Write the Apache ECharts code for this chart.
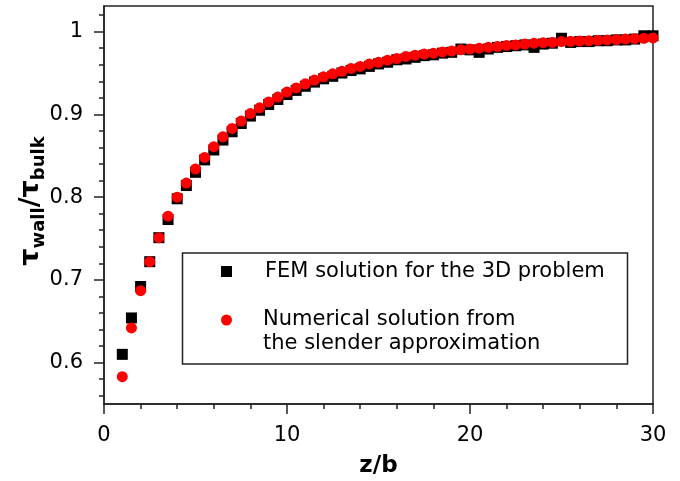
<!DOCTYPE html>
<html>
<head>
<meta charset="utf-8">
<script src="https://cdn.jsdelivr.net/npm/echarts@6/dist/echarts.min.js"></script>
<style>
  html, body { margin: 0; padding: 0; background: #fff; }
  #chart { width: 680px; height: 481px; }
</style>
</head>
<body>
<div id="chart"></div>
<script>
// ---- data ----
var zValues = [1, 1.5, 2, 2.5, 3, 3.5, 4, 4.5, 5, 5.5, 6, 6.5, 7, 7.5, 8, 8.5, 9, 9.5, 10, 10.5,
  11, 11.5, 12, 12.5, 13, 13.5, 14, 14.5, 15, 15.5, 16, 16.5, 17, 17.5, 18, 18.5, 19, 19.5, 20, 20.5,
  21, 21.5, 22, 22.5, 23, 23.5, 24, 24.5, 25, 25.5, 26, 26.5, 27, 27.5, 28, 28.5, 29, 29.5, 30];

var femValues = [0.610, 0.654, 0.692, 0.722, 0.751, 0.773, 0.798, 0.814, 0.830, 0.845,
  0.857, 0.869, 0.879, 0.889, 0.898, 0.905, 0.912, 0.918, 0.924, 0.929,
  0.934, 0.939, 0.943, 0.946, 0.950, 0.953, 0.955, 0.958, 0.961, 0.963,
  0.966, 0.967, 0.969, 0.971, 0.972, 0.974, 0.975, 0.979, 0.978, 0.975,
  0.979, 0.981, 0.982, 0.983, 0.984, 0.981, 0.985, 0.986, 0.992, 0.987,
  0.988, 0.988, 0.989, 0.989, 0.990, 0.990, 0.991, 0.995, 0.995];

var slenderValues = [0.583, 0.642, 0.687, 0.722, 0.751, 0.777, 0.800, 0.817, 0.834, 0.848,
  0.861, 0.873, 0.883, 0.892, 0.901, 0.908, 0.915, 0.921, 0.927, 0.932,
  0.937, 0.9415, 0.9455, 0.949, 0.952, 0.9555, 0.958, 0.961, 0.963, 0.9655,
  0.9675, 0.970, 0.9715, 0.973, 0.974, 0.9755, 0.9765, 0.978, 0.979, 0.980,
  0.981, 0.982, 0.9833, 0.984, 0.985, 0.986, 0.9867, 0.987, 0.988, 0.9883,
  0.9887, 0.989, 0.9896, 0.990, 0.9904, 0.991, 0.9915, 0.992, 0.9924];

var yMajorTicks = [0.6, 0.7, 0.8, 0.9, 1];
var yMinorTicks = [0.56, 0.58, 0.62, 0.64, 0.66, 0.68, 0.72, 0.74, 0.76, 0.78,
  0.82, 0.84, 0.86, 0.88, 0.92, 0.94, 0.96, 0.98, 1.02];

var seriesNames = ['FEM solution for the 3D problem', 'Numerical solution from the slender approximation'];
var legendLines = [['FEM solution for the 3D problem'], ['Numerical solution from', 'the slender approximation']];

// ---- chart ----
function pairs(xs, ys) {
  var out = [];
  for (var i = 0; i < xs.length; i++) out.push([xs[i], ys[i]]);
  return out;
}

var FONT = 'DejaVu Sans';
var AXIS_COLOR = '#222';

var chart = echarts.init(document.getElementById('chart'), null, { renderer: 'canvas' });
chart.setOption({
  animation: false,
  backgroundColor: '#fff',
  textStyle: { fontFamily: FONT },
  grid: {
    left: 104, right: 27, top: 6, bottom: 77,
    containLabel: false, outerBoundsMode: 'none',
    show: true, borderColor: AXIS_COLOR, borderWidth: 1.5, backgroundColor: 'transparent'
  },
  xAxis: {
    type: 'value', min: 0, max: 30, interval: 10,
    name: 'z/b', nameLocation: 'middle', nameGap: 51, nameMoveOverlap: false,
    nameTextStyle: { fontFamily: FONT, fontSize: 23, fontWeight: 'bold', color: '#000' },
    axisLine: { show: true, onZero: false, lineStyle: { color: AXIS_COLOR, width: 1.5 } },
    axisTick: { show: true, length: 10, lineStyle: { color: AXIS_COLOR, width: 1.5 } },
    minorTick: { show: true, splitNumber: 5, length: 5, lineStyle: { color: AXIS_COLOR, width: 1.5 } },
    axisLabel: { fontFamily: FONT, fontSize: 21, color: '#000', margin: 21 },
    splitLine: { show: false }
  },
  yAxis: [{
    type: 'value', min: 0.55, max: 1.031, position: 'left',
    name: '{t|τ}{s|wall}{t|/τ}{s|bulk}', nameLocation: 'middle', nameGap: 56, nameRotate: 90,
    nameMoveOverlap: false,
    nameTextStyle: {
      color: '#000',
      padding: [0, 0, 0, 8],
      rich: {
        t: { fontFamily: FONT, fontSize: 27, fontWeight: 'bold', color: '#000', padding: [0, 0, 4, 0], verticalAlign: 'top' },
        s: { fontFamily: FONT, fontSize: 18, fontWeight: 'bold', color: '#000', verticalAlign: 'bottom' }
      }
    },
    axisLine: { show: true, onZero: false, lineStyle: { color: AXIS_COLOR, width: 1.5 } },
    axisTick: { show: true, length: 10, customValues: yMajorTicks, lineStyle: { color: AXIS_COLOR, width: 1.5 } },
    axisLabel: { fontFamily: FONT, fontSize: 21, color: '#000', margin: 21, customValues: yMajorTicks },
    splitLine: { show: false }
  }, {
    type: 'value', min: 0.55, max: 1.031, position: 'left',
    axisLine: { show: false },
    axisTick: { show: true, length: 5, customValues: yMinorTicks, lineStyle: { color: AXIS_COLOR, width: 1.5 } },
    axisLabel: { show: false },
    splitLine: { show: false }
  }],
  legend: [{
    data: [seriesNames[0]],
    left: 221, top: 261, padding: 0,
    itemWidth: 11, itemHeight: 11,
    formatter: function () { return legendLines[0].join('\n'); },
    textStyle: { fontFamily: FONT, fontSize: 21, color: '#000', padding: [0, 0, 0, 28] }
  }, {
    data: [seriesNames[1]],
    left: 221, top: 284, padding: 0,
    itemWidth: 11, itemHeight: 11,
    // a blank first line keeps the symbol level with the first text line
    formatter: function () { return '\n' + legendLines[1].join('\n'); },
    textStyle: { fontFamily: FONT, fontSize: 21, color: '#000', lineHeight: 24, padding: [0, 0, 0, 26] }
  }],
  graphic: [{
    type: 'rect', left: 180, top: 250.5, z: 100,
    shape: { width: 445, height: 111 },
    style: { fill: 'none', stroke: AXIS_COLOR, lineWidth: 1.5 }
  }],
  series: [{
    name: seriesNames[0], type: 'scatter', symbol: 'rect', symbolSize: 11,
    itemStyle: { color: '#000', opacity: 1 },
    data: pairs(zValues, femValues)
  }, {
    name: seriesNames[1], type: 'scatter', symbol: 'circle', symbolSize: 11,
    itemStyle: { color: '#ff0000', opacity: 1 },
    data: pairs(zValues, slenderValues)
  }]
});
</script>
</body>
</html>
